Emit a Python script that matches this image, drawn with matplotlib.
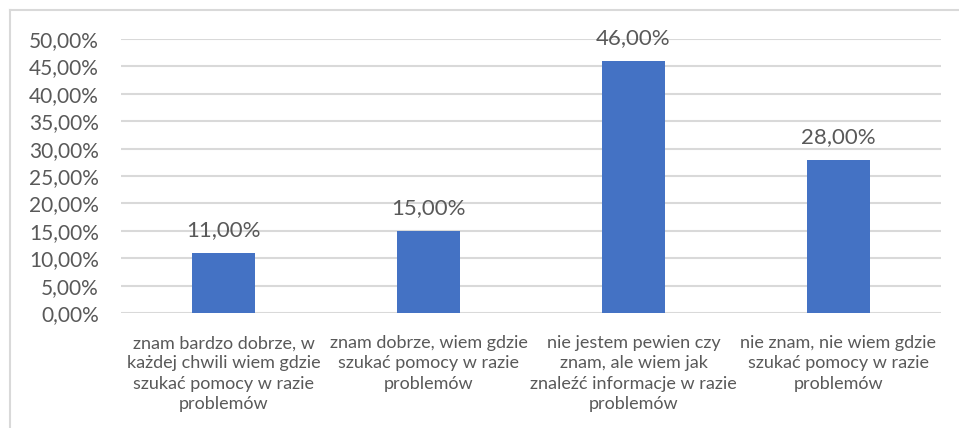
import matplotlib
matplotlib.use("Agg")
import matplotlib.pyplot as plt
from matplotlib.lines import Line2D

plt.rcParams['font.family'] = ['Lato', 'DejaVu Sans']

categories = [
    "znam bardzo dobrze, w\nkażdej chwili wiem gdzie\nszukać pomocy w razie\nproblemów",
    "znam dobrze, wiem gdzie\nszukać pomocy w razie\nproblemów",
    "nie jestem pewien czy\nznam, ale wiem jak\nznaleźć informacje w razie\nproblemów",
    "nie znam, nie wiem gdzie\nszukać pomocy w razie\nproblemów",
]
values = [0.11, 0.15, 0.46, 0.28]
yticks = [0.0, 0.05, 0.10, 0.15, 0.20, 0.25, 0.30, 0.35, 0.40, 0.45, 0.50]

text_col = "#595959"
grid_col = "#D9D9D9"
bar_col = "#4472C4"

def pct(v):
    return ("%.2f%%" % (v * 100)).replace(".", ",")

fig = plt.figure(figsize=(9.59, 4.28), dpi=100)
ax = fig.add_axes([121 / 959, 115 / 428, 820 / 959, 274 / 428])

x = range(len(values))
bars = ax.bar(x, values, width=0.31, color=bar_col, zorder=3)

for b, v in zip(bars, values):
    ax.annotate(pct(v), (b.get_x() + b.get_width() / 2, v), xytext=(0, 9),
                textcoords="offset points", ha="center", va="bottom",
                fontsize=16, color=text_col)

ax.set_xlim(-0.5, len(values) - 0.5)
ax.set_ylim(0, 0.5)
ax.set_yticks(yticks)
ax.set_yticklabels([pct(t) for t in yticks])
ax.set_xticks(list(x))
ax.set_xticklabels(categories, linespacing=1.32)
ax.tick_params(axis="y", length=0, pad=16, labelsize=15, labelcolor=text_col)
ax.tick_params(axis="x", length=0, pad=16, labelsize=13, labelcolor=text_col)
ax.yaxis.grid(True, color=grid_col, linewidth=1.5, zorder=0)
ax.set_axisbelow(True)
for s in ax.spines.values():
    s.set_visible(False)

# chart border (only left and top visible in the crop)
fig.add_artist(Line2D([9.5 / 959, 9.5 / 959], [0, 418 / 428], color=grid_col, lw=1.5))
fig.add_artist(Line2D([9.5 / 959, 1], [418 / 428, 418 / 428], color=grid_col, lw=1.5))

fig.savefig("out.png", dpi=100)
